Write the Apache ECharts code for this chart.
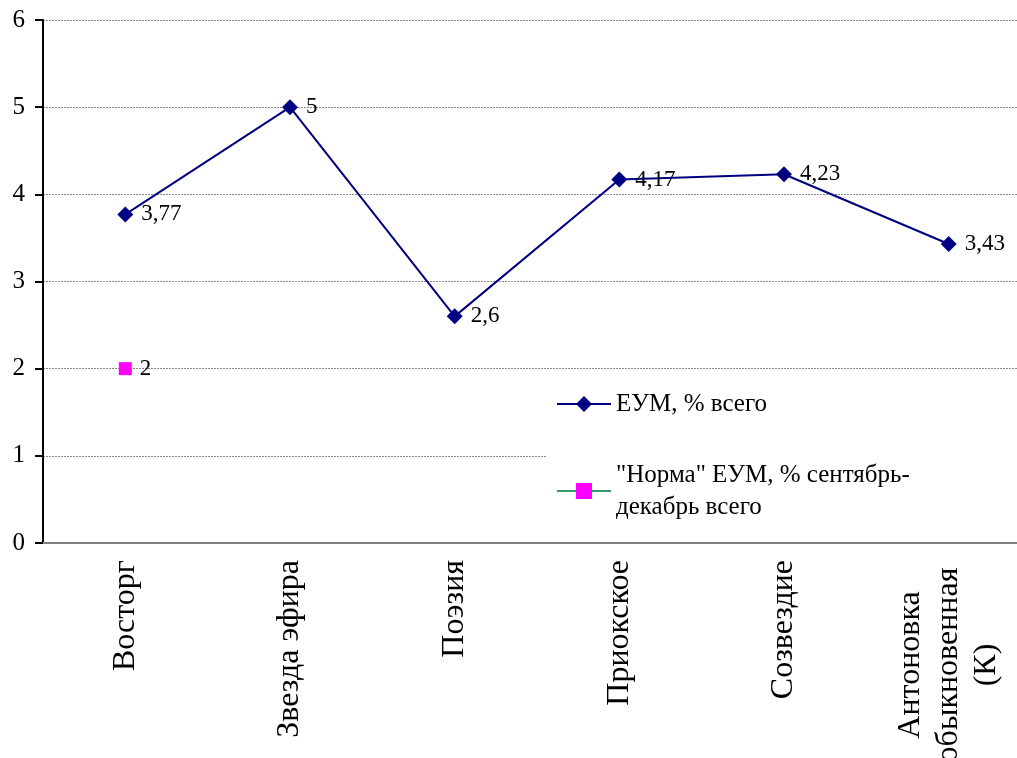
<!DOCTYPE html>
<html>
<head>
<meta charset="utf-8">
<script src="https://cdn.jsdelivr.net/npm/echarts@6/dist/echarts.min.js"></script>
<style>
  html, body { margin: 0; padding: 0; background: #fff; }
  #chart { width: 1017px; height: 758px; }
</style>
</head>
<body>
<div id="chart"></div>
<script>
// Сорта и значения ЕУМ
const categories = ['Восторг', 'Звезда эфира', 'Поэзия', 'Приокское', 'Созвездие', 'Антоновка\nобыкновенная\n(К)'];
const eumTotal = [3.77, 5, 2.6, 4.17, 4.23, 3.43];
const eumNorm = [2, null, null, null, null, null];
const yTicks = [0, 1, 2, 3, 4, 5, 6];

const seriesNames = ['ЕУМ, % всего', '"Норма" ЕУМ, % сентябрь-\nдекабрь всего'];

const FONT = '"Liberation Serif", "Times New Roman", serif';
const commaFmt = p => String(p.value).replace('.', ',');

const chart = echarts.init(document.getElementById('chart'), null, { renderer: 'canvas' });

chart.setOption({
  animation: false,
  backgroundColor: '#ffffff',
  textStyle: { fontFamily: FONT, color: '#000' },
  grid: { left: 43, top: 20, right: -14, bottom: 215, containLabel: false, outerBoundsMode: 'none' },
  xAxis: {
    type: 'category',
    data: categories,
    boundaryGap: true,
    axisLine: { show: true, lineStyle: { color: '#808080', width: 2 } },
    axisTick: { show: false },
    axisLabel: {
      rotate: 90,
      margin: 17,
      interval: 0,
      fontFamily: FONT,
      fontSize: 32,
      color: '#000',
      lineHeight: 38,
      formatter: v => v.indexOf('\n') >= 0 ? '{c|' + v + '}' : v,
      rich: { c: { fontFamily: FONT, fontSize: 32, lineHeight: 38, align: 'center', width: 210, color: '#000' } }
    },
    splitLine: { show: false }
  },
  yAxis: {
    type: 'value',
    min: yTicks[0],
    max: yTicks[yTicks.length - 1],
    interval: 1,
    axisLine: { show: true, lineStyle: { color: '#000', width: 2 } },
    axisTick: { show: true, inside: false, length: 8, lineStyle: { color: '#000', width: 2 } },
    axisLabel: {
      margin: 18,
      fontFamily: FONT,
      fontSize: 25,
      color: '#000',
      formatter: v => String(v)
    },
    splitLine: { show: true, lineStyle: { color: '#8a8a8a', width: 1, type: [2, 1] } }
  },
  legend: {
    orient: 'vertical',
    left: 546,
    top: 372,
    padding: [16, 110, 16, 10],
    backgroundColor: '#ffffff',
    itemWidth: 54,
    itemHeight: 20,
    itemGap: 39,
    textStyle: { fontFamily: FONT, fontSize: 25, color: '#000', lineHeight: 32 },
    data: seriesNames
  },
  series: [
    {
      name: seriesNames[0],
      type: 'line',
      data: eumTotal,
      symbol: 'diamond',
      symbolSize: 16,
      lineStyle: { color: '#000080', width: 2 },
      itemStyle: { color: '#000080' },
      label: {
        show: true,
        position: 'right',
        distance: 8,
        fontFamily: FONT,
        fontSize: 23,
        color: '#000',
        formatter: commaFmt
      },
      z: 3
    },
    {
      name: seriesNames[1],
      type: 'line',
      data: eumNorm,
      symbol: 'rect',
      symbolSize: 13,
      lineStyle: { color: '#3a9a6a', width: 2 },
      itemStyle: { color: '#ff00ff' },
      label: {
        show: true,
        position: 'right',
        distance: 8,
        fontFamily: FONT,
        fontSize: 23,
        color: '#000',
        formatter: commaFmt
      },
      z: 3
    }
  ]
});
</script>
</body>
</html>
